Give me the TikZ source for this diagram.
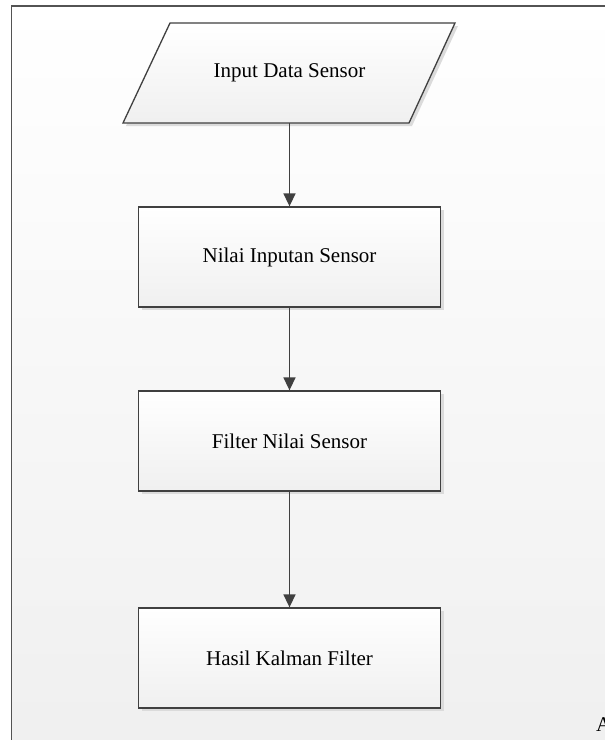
\documentclass[tikz,border=0pt]{standalone}
\usepackage{fontspec}
\setmainfont{Liberation Serif}
\usetikzlibrary{arrows.meta,shadows}
\definecolor{edge}{HTML}{404040}
\begin{document}
\begin{tikzpicture}[x=1pt,y=-1pt,
  shapefill/.style={draw=edge, line width=1.3pt, top color=white, bottom color=black!6,
    drop shadow={shadow xshift=3pt, shadow yshift=-3pt, fill=black!14, opacity=1}},
  boxstyle/.style={shapefill, minimum width=302pt, minimum height=100pt, inner sep=0pt,
    font=\fontsize{21}{25}\selectfont},
  flow/.style={draw=edge, line width=1.6pt, -{Triangle[length=13pt,width=12pt]}}]
\useasboundingbox (0,0) rectangle (605,740);
\fill[white] (0,0) rectangle (605,740);
\shade[top color=white, bottom color=black!6] (11.5,6) rectangle (605,740);
\draw[edge!90, line width=1.4pt] (11.5,745) -- (11.5,6) -- (610,6);
% input parallelogram
\path[shapefill] (170,23) -- (455,23) -- (409,123) -- (123,123) -- cycle;
\node[minimum width=240pt, minimum height=100pt, inner sep=0pt,
  font=\fontsize{21}{25}\selectfont] (input) at (289.5,73) {Input Data Sensor};
\node[boxstyle] (nilai) at (289.5,257) {Nilai Inputan Sensor};
\node[boxstyle] (filter) at (289.5,441) {Filter Nilai Sensor};
\node[boxstyle] (hasil) at (289.5,658) {Hasil Kalman Filter};
\draw[flow] (input.south) -- (nilai.north);
\draw[flow] (nilai.south) -- (filter.north);
\draw[flow] (filter.south) -- (hasil.north);
\node[anchor=base west, inner sep=0pt, font=\fontsize{21}{25}\selectfont] (alabel) at (596,731) {A};
\end{tikzpicture}
\end{document}
